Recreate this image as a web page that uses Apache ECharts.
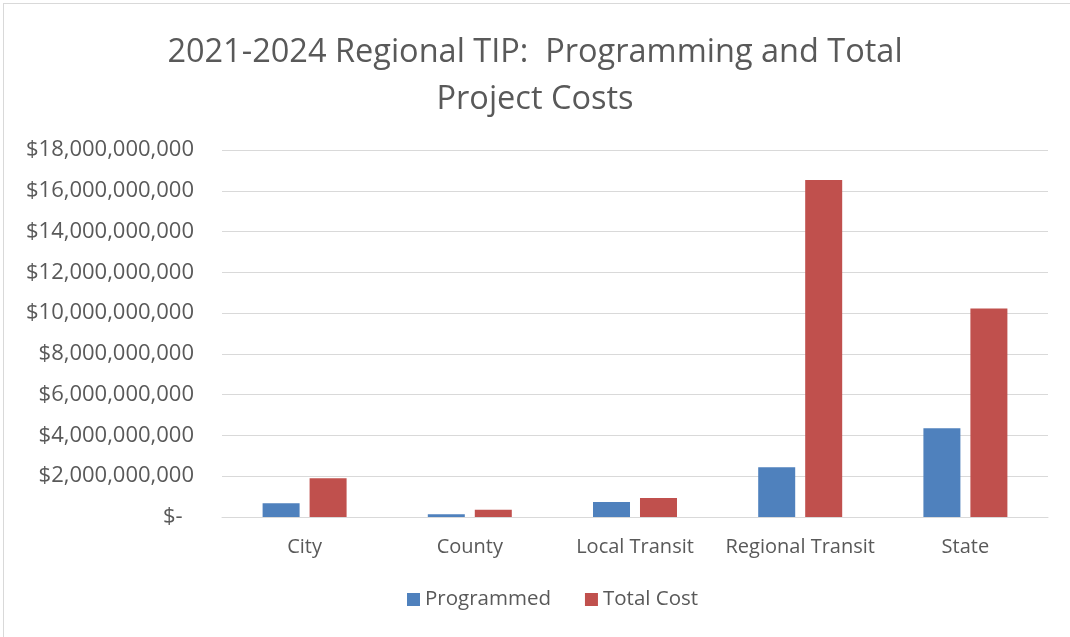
<!DOCTYPE html>
<html><head><meta charset="utf-8">
<script src="https://cdn.jsdelivr.net/npm/echarts@6/dist/echarts.min.js"></script>
<style>
html,body{margin:0;padding:0;background:#fff;}
#frame{position:absolute;left:3px;top:3px;width:1080px;height:640px;border:1px solid #d9d9d9;box-sizing:border-box;}
#c{position:absolute;left:0;top:0;width:1070px;height:637px;}
</style></head>
<body>
<div id="frame"></div>
<div id="c"></div>
<script>
const categories = ['City','County','Local Transit','Regional Transit','State'];
const programmed = [680000000, 130000000, 730000000, 2440000000, 4350000000];
const totalCost = [1900000000, 350000000, 930000000, 16530000000, 10230000000];
const seriesNames = ['Programmed','Total Cost'];

function fmt(v){
  if(v===0) return '$-  ';
  return '$' + v.toLocaleString('en-US');
}
const chart = echarts.init(document.getElementById('c'));
const font = '"Open Sans", sans-serif';
chart.setOption({
  animation:false,
  title:{
    text:'2021-2024 Regional TIP:  Programming and Total\nProject Costs',
    left:'center', top:24,
    textStyle:{fontFamily:font, fontSize:32.5, fontWeight:'normal', color:'#595959', lineHeight:47}
  },
  legend:{
    bottom:22, left:402, itemWidth:13, itemHeight:13, itemGap:34,
    icon:'rect',
    textStyle:{fontFamily:font, fontSize:20.5, color:'#595959'},
    data:seriesNames
  },
  grid:{left:222, right:22, top:150, bottom:120},
  xAxis:{
    type:'category', data:categories,
    axisLine:{lineStyle:{color:'#d9d9d9', width:1}},
    axisTick:{show:false},
    axisLabel:{interval:0, fontFamily:font, fontSize:20, color:'#595959', margin:20}
  },
  yAxis:{
    type:'value', min:0, max:18000000000, interval:2000000000,
    axisLine:{show:false}, axisTick:{show:false},
    splitLine:{lineStyle:{color:'#d9d9d9', width:1}},
    axisLabel:{fontFamily:font, fontSize:22, color:'#595959', margin:28, formatter:fmt}
  },
  series:[
    {name:seriesNames[0], type:'bar', data:programmed, barWidth:37, barGap:'27%', itemStyle:{color:'#4f81bd'}},
    {name:seriesNames[1], type:'bar', data:totalCost, barWidth:37, itemStyle:{color:'#c0504d'}}
  ]
});
</script>
</body></html>
